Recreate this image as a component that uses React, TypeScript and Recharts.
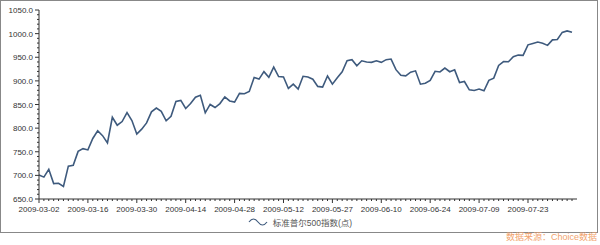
import React from 'react';
import { LineChart, Line, XAxis, YAxis, Legend } from 'recharts';

// S&P 500 daily close, 2009-03-02 .. 2009-08-05
const dates = [
  '2009-03-02', '2009-03-03', '2009-03-04', '2009-03-05', '2009-03-06', '2009-03-09', '2009-03-10', '2009-03-11',
  '2009-03-12', '2009-03-13', '2009-03-16', '2009-03-17', '2009-03-18', '2009-03-19', '2009-03-20', '2009-03-23',
  '2009-03-24', '2009-03-25', '2009-03-26', '2009-03-27', '2009-03-30', '2009-03-31',
  '2009-04-01', '2009-04-02', '2009-04-03', '2009-04-06', '2009-04-07', '2009-04-08', '2009-04-09', '2009-04-13',
  '2009-04-14', '2009-04-15', '2009-04-16', '2009-04-17', '2009-04-20', '2009-04-21', '2009-04-22', '2009-04-23',
  '2009-04-24', '2009-04-27', '2009-04-28', '2009-04-29', '2009-04-30',
  '2009-05-01', '2009-05-04', '2009-05-05', '2009-05-06', '2009-05-07', '2009-05-08', '2009-05-11', '2009-05-12',
  '2009-05-13', '2009-05-14', '2009-05-15', '2009-05-18', '2009-05-19', '2009-05-20', '2009-05-21', '2009-05-22',
  '2009-05-26', '2009-05-27', '2009-05-28', '2009-05-29',
  '2009-06-01', '2009-06-02', '2009-06-03', '2009-06-04', '2009-06-05', '2009-06-08', '2009-06-09', '2009-06-10',
  '2009-06-11', '2009-06-12', '2009-06-15', '2009-06-16', '2009-06-17', '2009-06-18', '2009-06-19', '2009-06-22',
  '2009-06-23', '2009-06-24', '2009-06-25', '2009-06-26', '2009-06-29', '2009-06-30',
  '2009-07-01', '2009-07-02', '2009-07-06', '2009-07-07', '2009-07-08', '2009-07-09', '2009-07-10', '2009-07-13',
  '2009-07-14', '2009-07-15', '2009-07-16', '2009-07-17', '2009-07-20', '2009-07-21', '2009-07-22', '2009-07-23',
  '2009-07-24', '2009-07-27', '2009-07-28', '2009-07-29', '2009-07-30', '2009-07-31',
  '2009-08-03', '2009-08-04', '2009-08-05',
];

const spxClose = [
  700.82, 696.33, 712.87, 682.55, 683.38, 676.53, 719.6, 721.36,
  750.74, 756.55, 753.89, 778.12, 794.35, 784.04, 768.54, 822.92,
  806.12, 813.88, 832.86, 815.94, 787.53, 797.87,
  811.08, 834.38, 842.5, 835.48, 815.55, 825.16, 856.56, 858.73,
  841.5, 852.06, 865.3, 869.6, 832.39, 850.08, 843.55, 851.92,
  866.23, 857.51, 855.16, 873.64, 872.81,
  877.52, 907.24, 903.8, 919.53, 907.39, 929.23, 909.24, 908.35,
  883.92, 893.07, 882.88, 909.71, 908.13, 903.47, 888.33, 887.0,
  910.33, 893.06, 906.83, 919.14,
  942.87, 944.74, 931.76, 942.46, 940.09, 939.14, 942.43, 939.15,
  944.89, 946.21, 923.72, 911.97, 910.71, 918.37, 921.23, 893.04,
  895.1, 900.94, 920.26, 918.9, 927.23, 919.32,
  923.33, 896.42, 898.72, 881.03, 879.56, 882.68, 879.13, 901.05,
  905.84, 932.68, 940.74, 940.38, 951.13, 954.58, 954.07, 976.29,
  979.26, 982.18, 979.62, 975.15, 986.75, 987.48,
  1002.63, 1005.65, 1002.72,
];

const xTickLabels = [
  '2009-03-02', '2009-03-16', '2009-03-30', '2009-04-14', '2009-04-28', '2009-05-12',
  '2009-05-27', '2009-06-10', '2009-06-24', '2009-07-09', '2009-07-23',
];

const yTickLabels = [650, 700, 750, 800, 850, 900, 950, 1000, 1050];

const seriesName = '标准普尔500指数(点)';

const data = dates.map((date, i) => ({ date, value: spxClose[i] }));

// minor ticks every 10 between the labelled ones
const yTicks: number[] = [];
yTickLabels.forEach((v, i) => {
  yTicks.push(v);
  if (i < yTickLabels.length - 1) {
    for (let k = 10; k < 50; k += 10) yTicks.push(v + k);
  }
});

const AXIS = '#333';
const LINE = '#3e5a7d';
const FONT = '"Liberation Sans", Arial, "Noto Sans CJK SC", sans-serif';

const XTick = (props: any) => {
  const { x, y, payload } = props;
  const major = xTickLabels.includes(payload.value);
  return (
    <g>
      <line x1={x} x2={x} y1={y} y2={y + (major ? 4 : 2)} stroke={AXIS} strokeWidth={1} />
      {major && (
        <text x={x} y={y + 13} textAnchor="middle" fontSize={8} fill="#333" fontFamily={FONT}>
          {payload.value}
        </text>
      )}
    </g>
  );
};

const YTick = (props: any) => {
  const { x, y, payload } = props;
  const major = yTickLabels.includes(payload.value);
  return (
    <g>
      <line x1={x - (major ? 4 : 2)} x2={x} y1={y} y2={y} stroke={AXIS} strokeWidth={1} />
      {major && (
        <text x={x - 6} y={y + 3} textAnchor="end" fontSize={8} fill="#333" fontFamily={FONT}>
          {payload.value.toFixed(1)}
        </text>
      )}
    </g>
  );
};

const LegendContent = () => (
  <div style={{ display: 'flex', justifyContent: 'center', alignItems: 'center', fontFamily: FONT }}>
    <svg width={20} height={10} style={{ marginRight: 5 }}>
      <path d="M1 5 C4 1 7 1 10 5 S16 9 19 5" fill="none" stroke={LINE} strokeWidth={1.2} />
    </svg>
    <span style={{ fontSize: 8.5, color: '#555' }}>{seriesName}</span>
  </div>
);

export default function App() {
  return (
    <div style={{ position: 'fixed', left: 0, top: 0, width: 600, height: 245, background: '#fff' }}>
      <div
        style={{
          position: 'absolute', left: 0, top: 0, width: 598, height: 233,
          border: '1px solid #888', boxSizing: 'border-box',
        }}
      />
      <LineChart width={600} height={245} data={data} margin={{ top: 10, right: 23, left: 0, bottom: 10 }}>
        <XAxis
          dataKey="date"
          interval={0}
          tickSize={0}
          tickMargin={0}
          tickLine={false}
          axisLine={{ stroke: AXIS }}
          padding={{ left: 0, right: 5 }}
          height={20}
          tick={<XTick />}
        />
        <YAxis
          domain={[650, 1050]}
          ticks={yTicks}
          interval={0}
          width={39}
          tickSize={0}
          tickMargin={0}
          tickLine={false}
          axisLine={{ stroke: AXIS }}
          tick={<YTick />}
        />
        <Legend verticalAlign="bottom" height={16} wrapperStyle={{ top: 216, left: 0, width: 600 }} content={<LegendContent />} />
        <Line
          type="linear"
          dataKey="value"
          name={seriesName}
          stroke={LINE}
          strokeWidth={1.6}
          dot={false}
          isAnimationActive={false}
        />
      </LineChart>
      <div
        style={{
          position: 'absolute', right: 3, top: 231, fontSize: 9, color: '#f2a46e',
          fontFamily: FONT, lineHeight: '12px', whiteSpace: 'nowrap',
        }}
      >
        数据来源：Choice数据
      </div>
    </div>
  );
}
